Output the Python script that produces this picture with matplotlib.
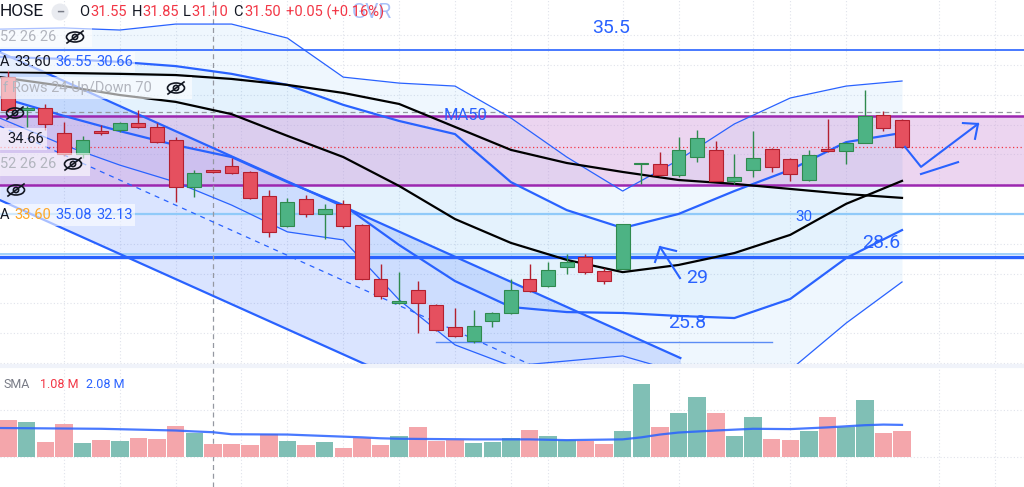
import numpy as np
import matplotlib.pyplot as plt
from matplotlib.patches import Rectangle, Ellipse, Circle

plt.rcParams['font.family'] = ['Roboto', 'DejaVu Sans']

# candles (bar index 0..48)
opens = [34.59, 33.49, 33.55, 32.72, 32.01, 32.75, 32.82, 33.05, 32.92, 32.48,
         30.90, 31.44, 31.61, 31.41, 30.60, 29.60, 30.50, 30.00, 30.34, 29.63,
         27.82, 27.01, 27.45, 26.95, 26.21, 25.74, 26.41, 26.68, 27.82, 27.59,
         28.22, 28.56, 28.09, 28.16, 31.66, 31.68, 31.31, 31.91, 32.13, 31.11,
         31.48, 32.18, 31.84, 31.14, 32.18, 32.10, 32.39, 33.33, 33.14]
highs = [34.83, 33.62, 33.69, 33.09, 32.62, 32.98, 33.09, 33.49, 33.05, 32.58,
         31.48, 31.48, 31.88, 31.44, 30.80, 30.54, 30.64, 30.34, 30.47, 29.66,
         28.32, 28.05, 27.75, 26.98, 26.85, 26.78, 26.71, 27.82, 28.32, 28.39,
         28.66, 28.66, 28.19, 29.66, 31.71, 32.08, 32.58, 32.82, 32.46, 32.00,
         32.80, 32.21, 31.88, 32.13, 33.17, 32.41, 34.15, 33.44, 33.17]
lows = [33.42, 32.92, 32.82, 31.94, 31.88, 32.65, 32.75, 32.88, 32.38, 30.40,
        30.57, 31.37, 31.34, 30.50, 29.23, 29.56, 29.90, 29.16, 29.53, 27.79,
        27.15, 26.98, 26.01, 26.08, 25.87, 25.67, 26.21, 26.65, 27.38, 27.55,
        27.99, 27.99, 27.65, 28.16, 31.01, 31.27, 31.24, 31.76, 31.09, 31.01,
        31.24, 31.41, 31.09, 31.09, 32.08, 31.68, 32.38, 32.78, 32.22]
closes = [33.49, 33.55, 33.02, 32.01, 32.48, 32.72, 33.05, 32.92, 32.41, 30.90,
          31.37, 31.41, 31.37, 30.54, 29.40, 30.40, 30.00, 30.17, 29.60, 27.82,
          27.25, 27.05, 27.01, 26.11, 25.91, 26.24, 26.68, 27.45, 27.42, 28.12,
          28.39, 28.05, 27.75, 29.66, 31.69, 31.31, 32.13, 32.55, 31.11, 31.24,
          31.88, 31.59, 31.34, 31.98, 32.10, 32.38, 33.27, 32.88, 32.25]

# volume in millions
volumes = [2.35, 2.24, 0.97, 2.10, 0.91, 1.11, 1.04, 1.22, 1.15, 1.97,
           1.53, 0.84, 0.84, 0.80, 1.50, 1.04, 0.80, 0.97, 0.58, 1.22,
           0.75, 1.35, 1.93, 1.00, 1.11, 0.91, 0.97, 1.24, 1.73, 1.35,
           1.11, 1.02, 0.84, 1.64, 4.69, 1.93, 2.85, 3.83, 2.81, 1.35,
           2.59, 1.17, 1.11, 1.66, 2.59, 1.93, 3.67, 1.57, 1.66]
vol_sma_x = [-0.5, 5, 9, 10, 11, 12, 15, 19, 20, 21, 25, 28, 30, 33, 34, 35,
             36, 38, 40, 42, 44, 46, 47, 48]
vol_sma = [1.86, 1.81, 1.70, 1.64, 1.59, 1.46, 1.44, 1.26, 1.20, 1.17, 1.13,
           1.13, 1.08, 1.13, 1.26, 1.44, 1.57, 1.70, 1.81, 1.79, 1.90, 2.04,
           2.08, 2.06]

# indicator lines read at these bar positions
line_x = [-0.45, 3, 6, 9, 12, 15, 18, 21, 24, 27, 30, 33, 36, 39, 42, 45, 48]
ma50 = [34.76, 34.73, 34.70, 34.66, 34.53, 34.33, 34.06, 33.69, 32.92, 32.15,
        31.71, 31.41, 31.14, 31.01, 30.84, 30.67, 30.54]
ma20 = [34.59, 34.29, 33.99, 33.76, 33.35, 32.62, 31.91, 30.94, 29.83, 29.03,
        28.46, 28.05, 28.29, 28.69, 29.30, 30.34, 31.11]
bb_up = [35.27, 35.20, 35.10, 34.96, 34.70, 34.33, 33.66, 33.12, 32.68, 31.07,
         30.13, 29.53, 30.00, 30.77, 31.48, 32.41, 32.72]
bb_low = [33.92, 33.29, 32.78, 32.31, 31.91, 31.07, 30.30, 28.96, 27.75, 26.88,
          26.71, 26.68, 26.58, 26.51, 27.15, 28.52, 29.46]
bb2_up = [36.20, 36.24, 36.17, 36.37, 36.37, 35.90, 34.59, 34.39, 34.29, 33.22,
          31.91, 30.77, 31.81, 33.02, 33.89, 34.29, 34.46]
bb2_low = [33.22, 32.31, 31.64, 31.07, 30.30, 29.40, 29.13, 27.12, 25.61, 24.90,
           25.07, 25.24, 24.70, 24.37, 24.77, 26.34, 27.72]

# descending channel drawing
chan_x = [-0.45, 36.1]
chan_top = [35.43, 25.17]
chan_width = 4.96

# horizontal levels
lvl_355 = 35.5
lvl_30 = 30.0
lvl_286 = 28.55
box_low, box_high = 30.97, 33.29
cross_price = 33.42
cross_bar = 11
support_258 = 25.71
support_x = [23.0, 41.0]

BLUE = '#2962ff'
UP, UP_EDGE = '#4db384', '#2f8a4e'
DN, DN_EDGE = '#e5505f', '#b3202f'

fig = plt.figure(figsize=(10.24, 4.87), dpi=100)
ax = fig.add_axes([0, 1 - 365 / 487, 1, 365 / 487])
axv = fig.add_axes([0, 0, 1, 120 / 487])
XL = (-0.43, 54.55)

# ---- main panel
ax.set_xlim(*XL)
ax.set_ylim(24.935, 37.177)
ax.axis('off')
grid_x = [3, 6, 9, 12.5, 15, 18, 21, 24, 27, 29, 33, 36, 40, 42, 45, 50, 53]
for gx in grid_x:
    ax.axvline(gx, color='#e0e3eb', lw=0.8, ls=(0, (1, 2)), zorder=0)
    axv.axvline(gx, color='#e0e3eb', lw=0.8, ls=(0, (1, 2)), zorder=0)
for gy in range(25, 37):
    ax.axhline(gy, color='#e0e3eb', lw=0.8, ls=(0, (1, 2)), zorder=0)

ax.fill_between(line_x, bb2_low, bb2_up, color='#2196f3', alpha=0.07, lw=0, zorder=1)
ax.fill_between(line_x, bb_low, bb_up, color='#2196f3', alpha=0.05, lw=0, zorder=1)
ct = np.array(chan_top)
ax.fill_between(chan_x, ct - chan_width, ct, color=BLUE, alpha=0.17, lw=0, zorder=1)
ax.axhspan(box_low, box_high, color='#ce93d8', alpha=0.38, lw=0, zorder=1)
ax.axhline(box_low, color='#9c27b0', lw=1.8, zorder=2)
ax.axhline(box_high, color='#9c27b0', lw=1.8, zorder=2)

ax.axhline(lvl_355, color=BLUE, lw=1.2, zorder=2)
ax.axhline(lvl_30, color='#90caf9', lw=1.6, zorder=2)
ax.axhline(lvl_286 + 0.1, color='#90caf9', lw=1.2, zorder=2)
ax.axhline(lvl_286, color=BLUE, lw=2.4, zorder=2)
ax.axhline(closes[-1], color='#f23645', lw=0.9, ls=(0, (1, 2)), zorder=2)
ax.axhline(cross_price, color='#9598a1', lw=0.9, ls=(0, (4, 3)), zorder=2)
ax.axvline(cross_bar, color='#9598a1', lw=0.9, ls=(0, (4, 3)), zorder=2)
axv.axvline(cross_bar, color='#9598a1', lw=0.9, ls=(0, (4, 3)), zorder=2)
ax.plot(support_x, [support_258] * 2, color='#5b8cf5', lw=1.0, zorder=2)

ax.plot(chan_x, ct, color=BLUE, lw=1.6, zorder=3)
ax.plot(chan_x, ct - chan_width, color=BLUE, lw=1.6, zorder=3)
ax.plot(chan_x, ct - chan_width / 2, color=BLUE, lw=0.9, ls=(0, (4, 4)), zorder=3)

ax.plot(line_x, bb2_up, color=BLUE, lw=0.9, zorder=3)
ax.plot(line_x, bb2_low, color=BLUE, lw=0.9, zorder=3)
ax.plot(line_x, bb_up, color=BLUE, lw=1.6, zorder=3)
ax.plot(line_x, bb_low, color=BLUE, lw=1.6, zorder=3)
ax.plot(line_x, ma50, color='black', lw=1.6, zorder=3)
ax.plot(line_x, ma20, color='black', lw=1.6, zorder=3)

for i, (o, h, l, c) in enumerate(zip(opens, highs, lows, closes)):
    up = c >= o
    fc, ec = (UP, UP_EDGE) if up else (DN, DN_EDGE)
    ax.vlines(i, l, h, color=ec, lw=1.0, zorder=4)
    ax.add_patch(Rectangle((i - 0.375, min(o, c)), 0.75, max(abs(c - o), 0.06),
                           facecolor=fc, edgecolor=ec, lw=0.8, zorder=5))

# hand drawn notes
ax.text(32.37, 36.24, '35.5', color=BLUE, fontsize=14, ha='center', va='center', zorder=6)
ax.text(24.54, 33.29, 'MA50', color=BLUE, fontsize=12, ha='center', va='center', zorder=6)
ax.text(42.74, 29.90, '30', color=BLUE, fontsize=11, ha='center', va='center', zorder=6)
ax.text(46.87, 29.03, '28.6', color=BLUE, fontsize=14, ha='center', va='center', zorder=6)
ax.text(36.99, 27.85, '29', color=BLUE, fontsize=14, ha='center', va='center', zorder=6)
ax.text(36.46, 26.34, '25.8', color=BLUE, fontsize=14, ha='center', va='center', zorder=6)
ax.plot([36.08, 35.01], [27.85, 28.89], color=BLUE, lw=1.5, zorder=6)
ax.plot([34.74, 35.01, 35.87], [28.39, 28.89, 28.76], color=BLUE, lw=1.5, zorder=6)
ax.plot([48.16, 49.02, 52.08], [32.25, 31.58, 33.02], color=BLUE, lw=1.5, zorder=6)
ax.plot([51.27, 52.08, 51.92], [33.05, 33.02, 32.52], color=BLUE, lw=1.5, zorder=6)
ax.plot([49.02, 51.01], [31.34, 31.74], color=BLUE, lw=1.5, zorder=6)

# ---- volume panel
axv.set_xlim(*XL)
axv.set_ylim(-1.93, 5.78)
axv.axis('off')
axv.axhline(0, color='#e0e3eb', lw=0.8, ls=(0, (1, 2)), zorder=0)
axv.axhline(3.02, color='#e0e3eb', lw=0.8, ls=(0, (1, 2)), zorder=0)
vcol = ['#80bfb5' if c >= o else '#f4a6ab' for o, c in zip(opens, closes)]
axv.bar(range(len(volumes)), volumes, width=0.94, color=vcol, zorder=2)
axv.plot(vol_sma_x, vol_sma, color=BLUE, lw=1.6, alpha=0.85, zorder=3)

# ---- overlay labels (screen pixels)
ov = fig.add_axes([0, 0, 1, 1])
ov.set_xlim(0, 1024)
ov.set_ylim(487, 0)
ov.axis('off')
ov.patch.set_alpha(0)
ov.plot([0, 1024], [366, 366], color='#f0f3fa', lw=3)


def eye(x, y):
    ov.add_patch(Ellipse((x, y), 17, 10, fill=False, ec='#131722', lw=1.2))
    ov.add_patch(Circle((x, y), 2.6, fill=False, ec='#131722', lw=1.2))
    ov.plot([x - 8, x + 8], [y + 6, y - 6], color='#131722', lw=1.2)


def box(x0, y0, x1, y1):
    ov.add_patch(Rectangle((x0, y0), x1 - x0, y1 - y0, fc='white', ec='none', alpha=0.6))


GRAY = '#b2b5be'
DARK = '#131722'
ov.text(352, 12, 'GVR', color='#a9c0f7', fontsize=15, va='center', ha='left')
ov.text(0, 12, 'HOSE', color=DARK, fontsize=12.5, va='center', ha='left')
ov.add_patch(Circle((60, 12), 8.5, fc='#e9ebf0', ec='none'))
ov.text(60, 12, '–', color='#787b86', fontsize=9, va='center', ha='center', fontweight='bold')
hdr = [(79, 'O', DARK), (90, '31.55', '#f23645'), (132, 'H', DARK), (142, '31.85', '#f23645'),
       (183, 'L', DARK), (191, '31.10', '#f23645'), (233, 'C', DARK), (244, '31.50', '#f23645'),
       (286, '+0.05 (+0.16%)', '#f23645')]
for hx, ht, hc in hdr:
    ov.text(hx, 12, ht, color=hc, fontsize=10.5, va='center', ha='left')

box(0, 27, 92, 47)
ov.text(0, 37, '52 26 26', color=GRAY, fontsize=10.5, va='center')
eye(75, 37)
box(0, 52, 135, 72)
ov.text(0, 62, 'A', color=DARK, fontsize=10.5, va='center')
ov.text(14, 62, '33.60', color=DARK, fontsize=10.5, va='center')
ov.text(55, 62, '36.55', color=BLUE, fontsize=10.5, va='center')
ov.text(96, 62, '30.66', color=BLUE, fontsize=10.5, va='center')
box(0, 77, 192, 99)
ov.text(3, 88, 'f Rows 24 Up/Down 70', color=GRAY, fontsize=10.5, va='center')
eye(176, 88)
eye(15, 113)
box(0, 128, 47, 150)
ov.text(7, 139, '34.66', color=DARK, fontsize=10.5, va='center')
box(0, 153, 90, 176)
ov.text(0, 164, '52 26 26', color=GRAY, fontsize=10.5, va='center')
eye(73, 164)
eye(16, 190)
box(0, 204, 135, 226)
ov.text(0, 215, 'A', color=DARK, fontsize=10.5, va='center')
ov.text(14, 215, '33.60', color='#ffa726', fontsize=10.5, va='center')
ov.text(55, 215, '35.08', color=BLUE, fontsize=10.5, va='center')
ov.text(96, 215, '32.13', color=BLUE, fontsize=10.5, va='center')

ov.text(3, 384, 'SMA', color='#787b86', fontsize=9, va='center')
ov.text(40, 384, '1.08 M', color='#f23645', fontsize=9, va='center')
ov.text(86, 384, '2.08 M', color=BLUE, fontsize=9, va='center')

fig.savefig('out.png', dpi=100)
